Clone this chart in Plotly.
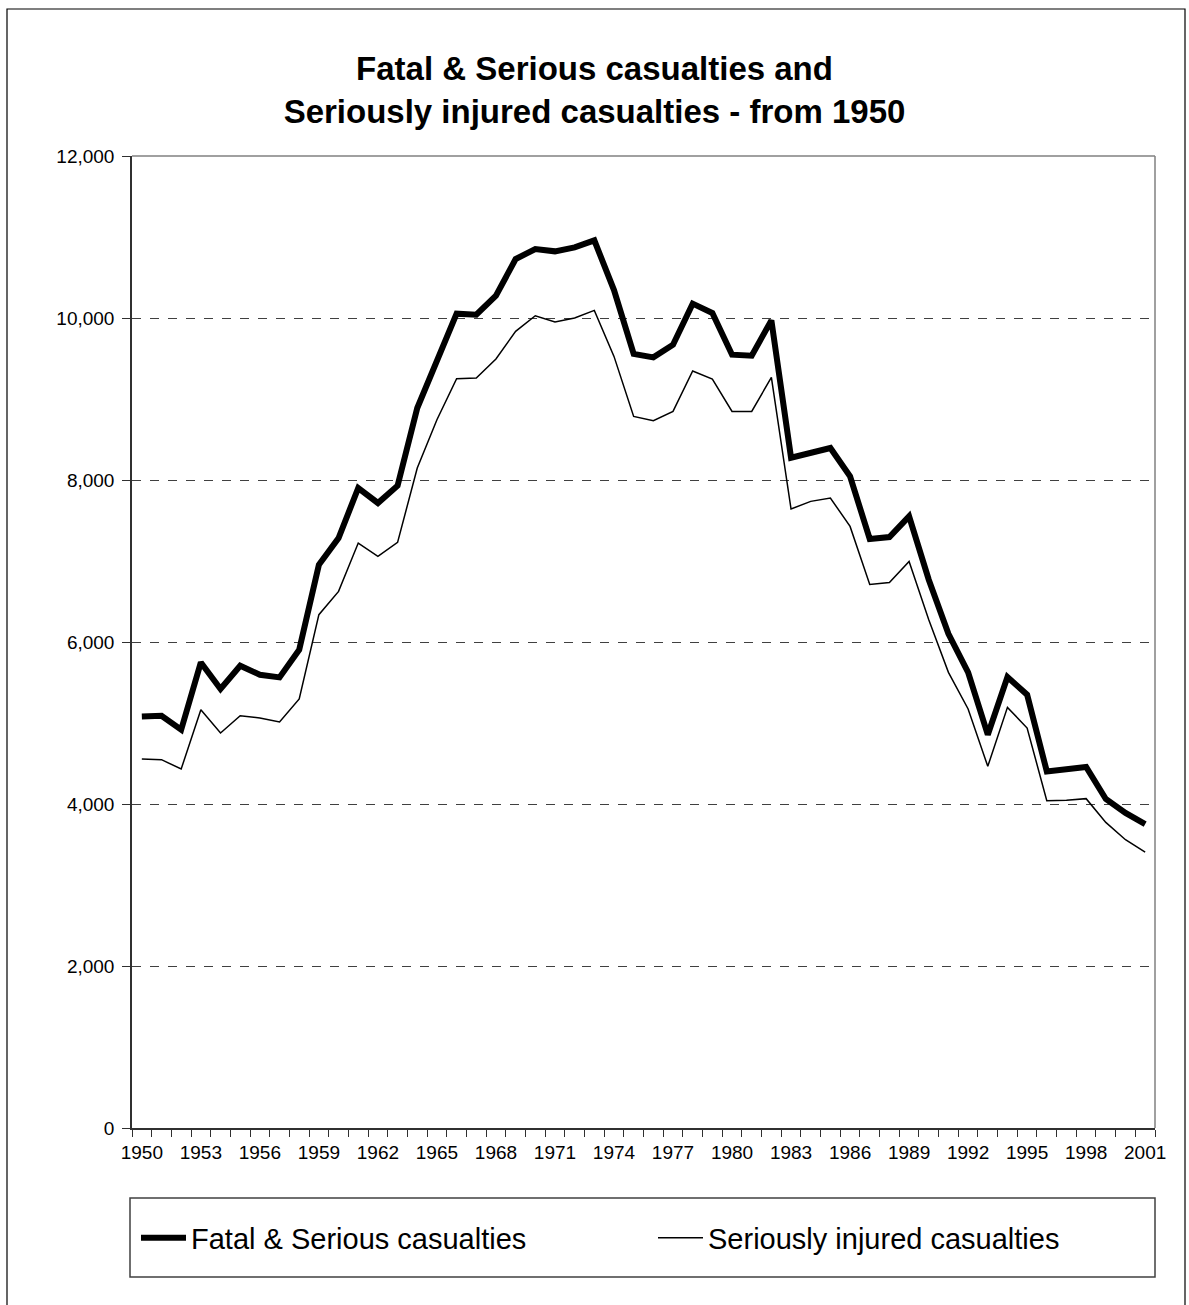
import plotly.graph_objects as go

# Annual casualty counts, 1950-2001
years = list(range(1950, 2002))

fatal_serious = [
    5081, 5090, 4917, 5748, 5420, 5707, 5596, 5563, 5905, 6954,
    7284, 7901, 7716, 7930, 8889, 9480, 10053, 10040, 10275, 10728,
    10852, 10823, 10872, 10958, 10345, 9556, 9514, 9670, 10177, 10062,
    9547, 9535, 9971, 8275, 8341, 8395, 8045, 7272, 7296, 7551,
    6769, 6102, 5625, 4856, 5567, 5349, 4403, 4432, 4457, 4062,
    3889, 3753,
]

seriously_injured = [
    4555, 4547, 4432, 5164, 4876, 5090, 5062, 5012, 5296, 6337,
    6625, 7222, 7057, 7230, 8148, 8744, 9251, 9259, 9494, 9835,
    10028, 9951, 10000, 10094, 9526, 8785, 8732, 8847, 9346, 9247,
    8847, 8847, 9267, 7642, 7736, 7778, 7427, 6710, 6735, 6995,
    6275, 5625, 5173, 4465, 5193, 4938, 4041, 4045, 4066, 3773,
    3559, 3407,
]

x_labels = list(range(1950, 2002, 3))
y_ticks = list(range(0, 12001, 2000))

FONT = "Liberation Sans, Arial, sans-serif"

W, H = 1189, 1305
L, R, T, B = 132, 34, 156, 177
pw = W - L - R
ph = H - T - B


def px_x(v):
    return (v - L) / pw


def px_y(v):
    return (H - B - v) / ph


fig = go.Figure()
fig.add_trace(go.Scatter(
    x=years, y=fatal_serious, mode="lines",
    name="Fatal & Serious casualties",
    line=dict(color="black", width=6),
    legend="legend",
))
fig.add_trace(go.Scatter(
    x=years, y=seriously_injured, mode="lines",
    name="Seriously injured casualties",
    line=dict(color="black", width=1.5),
    legend="legend2",
))

legend_common = dict(
    orientation="h",
    yanchor="middle", y=px_y(1238),
    xanchor="left",
    font=dict(family=FONT, size=29, color="black"),
    bgcolor="rgba(0,0,0,0)",
    borderwidth=0,
    itemwidth=45,
)

fig.update_layout(
    width=W, height=H,
    margin=dict(l=L, r=R, t=T, b=B),
    paper_bgcolor="white",
    plot_bgcolor="white",
    font=dict(family=FONT, color="black"),
    title=dict(
        text="Fatal & Serious casualties and<br>Seriously injured casualties - from 1950",
        font=dict(family=FONT, size=33, color="black", weight="bold"),
        x=0.5, xref="container", xanchor="center",
        y=1 - 80 / H, yref="container", yanchor="middle",
    ),
    showlegend=True,
    legend=dict(legend_common, x=px_x(136)),
    legend2=dict(legend_common, x=px_x(653)),
)

fig.update_xaxes(
    range=[1949.5, 2001.5],
    tickmode="array", tickvals=x_labels,
    ticks="", ticklabelstandoff=6,
    tickfont=dict(family=FONT, size=19, color="black"),
    showgrid=False, zeroline=False,
    showline=True, linecolor="#303030", linewidth=1.5,
    minor=dict(
        tickmode="array",
        tickvals=[y - 0.5 for y in range(1950, 2003)],
        ticks="outside", ticklen=7, tickwidth=1, tickcolor="#303030",
        showgrid=False,
    ),
)

fig.update_yaxes(
    range=[0, 12000],
    tickmode="array", tickvals=y_ticks,
    tickformat=",",
    ticks="outside", ticklen=8, tickwidth=1, tickcolor="#303030",
    ticklabelstandoff=4,
    tickfont=dict(family=FONT, size=19, color="black"),
    showgrid=True, gridcolor="#404040", gridwidth=1, griddash="dash",
    zeroline=False,
    showline=True, linecolor="#303030", linewidth=1.5,
)

# plot area frame (top and right edges in grey)
fig.add_shape(type="line", xref="paper", yref="paper",
              x0=0, x1=1, y0=1, y1=1,
              line=dict(color="#808080", width=1.5), layer="above")
fig.add_shape(type="line", xref="paper", yref="paper",
              x0=1, x1=1, y0=0, y1=1,
              line=dict(color="#808080", width=1.5), layer="above")

# legend frame
fig.add_shape(type="rect", xref="paper", yref="paper",
              x0=px_x(130), x1=px_x(1155), y0=px_y(1277), y1=px_y(1198),
              line=dict(color="#404040", width=1.5), fillcolor="rgba(0,0,0,0)")

# outer chart border
fig.add_shape(type="rect", xref="paper", yref="paper",
              x0=px_x(7), x1=px_x(1185), y0=px_y(1330), y1=px_y(9),
              line=dict(color="black", width=1.2), fillcolor="rgba(0,0,0,0)")

fig.write_html("out.html")
